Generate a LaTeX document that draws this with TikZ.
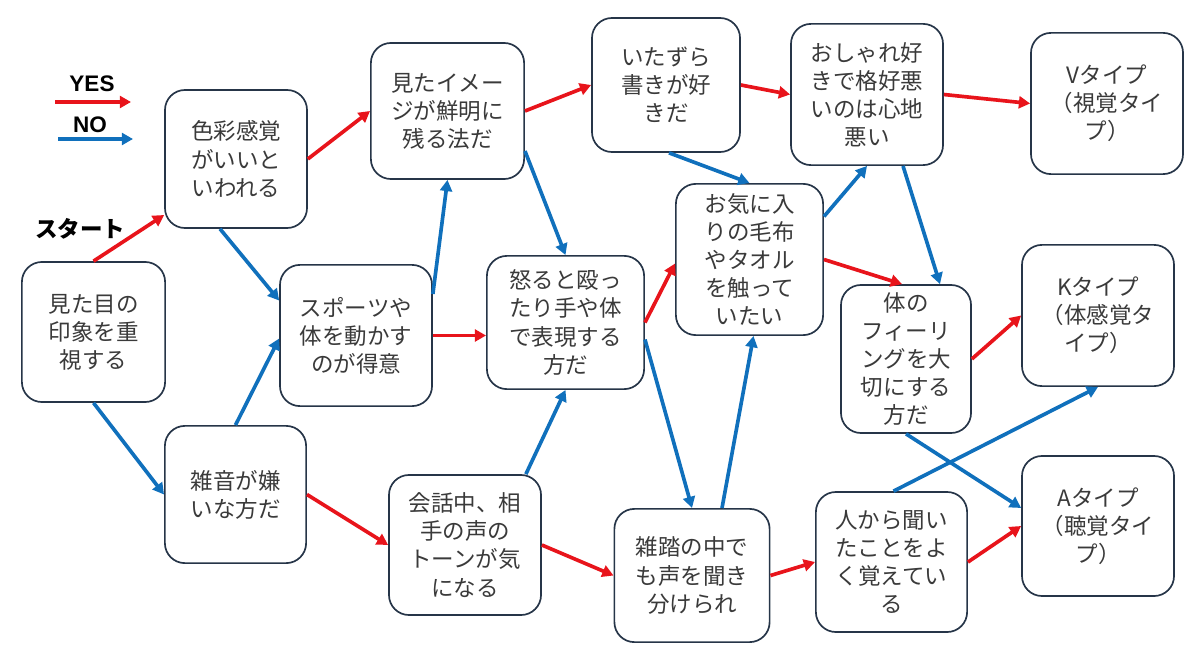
\documentclass[tikz,border=0pt]{standalone}
\usepackage{fontspec}
\newfontfamily\jp{Noto Sans CJK JP}
\newfontfamily\lat{Liberation Sans}
\usetikzlibrary{arrows.meta}
\definecolor{yesred}{HTML}{E8141B}
\definecolor{noblue}{HTML}{1070BC}
\definecolor{boxline}{HTML}{263548}
\definecolor{txt}{HTML}{3A3A3A}

\begin{document}
\begin{tikzpicture}[x=0.025cm, y=-0.025cm,
    box/.style={draw=boxline, line width=1.2pt, rounded corners=0.5cm, fill=white, align=center, text=txt,
        minimum width=3.8cm, minimum height=3.5cm, inner sep=2pt, font=\jp\fontsize{16}{20}\selectfont},
    yesarrow/.style={yesred, line width=2.6pt, -{Triangle[length=8pt,width=8.5pt]}},
    noarrow/.style={noblue, line width=2.6pt, -{Triangle[length=8pt,width=8.5pt]}}]
    \useasboundingbox (0,0) rectangle (1200,662);

    % legend
    \node[font=\lat\bfseries\fontsize{16}{18}\selectfont] (yes) at (92,84) {YES};
    \node[font=\lat\bfseries\fontsize{16}{18}\selectfont] (no) at (90,125) {NO};
    \coordinate (yesA) at (55,102);
    \coordinate (yesB) at (131,102);
    \coordinate (noA) at (58,139);
    \coordinate (noB) at (133,139);
    \draw[yesarrow] (yesA) -- (yesB);
    \draw[noarrow] (noA) -- (noB);
    \node[font=\jp\bfseries\fontsize{16}{18}\selectfont] (start) at (80,229) {スタート};

    % questions
    \node[box, minimum width=3.58cm] (look) at (93.5,332) {見た目の\\印象を重\\視する};
    \node[box, minimum width=3.55cm, minimum height=3.45cm] (color) at (236,159) {色彩感覚\\がいいと\\いわれる};
    \node[box, minimum width=3.53cm, minimum height=3.43cm] (noise) at (235.5,494.5) {雑音が嫌\\いな方だ};
    \node[box, minimum height=3.53cm] (sport) at (356,335.5) {スポーツや\\体を動かす\\のが得意};
    \node[box, minimum width=3.83cm, minimum height=3.4cm] (image) at (447.5,111) {見たイメー\\ジが鮮明に\\残る法だ};
    \node[box, minimum width=3.93cm, minimum height=3.33cm] (anger) at (565.5,322.5) {怒ると殴っ\\たり手や体\\で表現する\\方だ};
    \node[box] (voice) at (465,545) {会話中、相\\手の声の\\トーンが気\\になる};
    \node[box, minimum width=3.7cm, minimum height=3.35cm] (doodle) at (666,85) {いたずら\\書きが好\\きだ};
    \node[box, minimum width=3.68cm, minimum height=3.78cm] (blanket) at (749.5,259.5) {お気に入\\りの毛布\\やタオル\\を触って\\いたい};
    \node[box, minimum width=3.88cm, minimum height=3.33cm] (crowd) at (692,575.5) {雑踏の中で\\も声を聞き\\分けられ};
    \node[box, minimum height=3.53cm] (fashion) at (867,94.5) {おしゃれ好\\きで格好悪\\いのは心地\\悪い};
    \node[box, minimum width=3.25cm, minimum height=3.7cm] (feel) at (906,359) {体の\\フィーリ\\ングを大\\切にする\\方だ};
    \node[box, minimum width=3.78cm] (memory) at (891.5,562) {人から聞い\\たことをよ\\く覚えてい\\る};

    % results
    \node[box, minimum height=3.53cm] (vtype) at (1107,103.5) {Vタイプ\\（視覚タイ\\プ）};
    \node[box, minimum height=3.53cm] (ktype) at (1098,315.5) {Kタイプ\\（体感覚タ\\イプ）};
    \node[box] (atype) at (1098,526) {Aタイプ\\（聴覚タイ\\プ）};

    % yes
    \draw[yesarrow] (look.north) -- ([shift={(0,56)}]color.west);
    \draw[yesarrow] (color.east) -- (image.west);
    \draw[yesarrow] (noise.east) -- (voice.west);
    \draw[yesarrow] (sport.east) -- (sport.east -| anger.west);
    \draw[yesarrow] (image.east) -- (doodle.west);
    \draw[yesarrow] (voice.east) -- (crowd.west);
    \draw[yesarrow] (anger.east) -- ([shift={(0,4)}]blanket.west);
    \draw[yesarrow] (doodle.east) -- (fashion.west);
    \draw[yesarrow] (blanket.east) -- ([shift={(-4,0)}]feel.north);
    \draw[yesarrow] (fashion.east) -- (vtype.west);
    \draw[yesarrow] (feel.east) -- (ktype.west);
    \draw[yesarrow] (crowd.east) -- (memory.west);
    \draw[yesarrow] (memory.east) -- (atype.west);

    % no
    \draw[noarrow] (look.south) -- (noise.west);
    \draw[noarrow] ([shift={(-16,0)}]color.south) -- ([shift={(0,-35)}]sport.west);
    \draw[noarrow] (noise.north) -- ([shift={(0,3)}]sport.west);
    \draw[noarrow] ([shift={(0,30)}]sport.north east) -- (image.south);
    \draw[noarrow] ([shift={(0,40)}]image.east) -- (anger.north);
    \draw[noarrow] ([shift={(-16,0)}]voice.north east) -- (anger.south);
    \draw[noarrow] ([shift={(0,17)}]anger.east) -- (crowd.north);
    \draw[noarrow] ([shift={(30,0)}]crowd.north) -- ([shift={(4,0)}]blanket.south);
    \draw[noarrow] ([shift={(3,0)}]doodle.south) -- (blanket.north);
    \draw[noarrow] ([shift={(0,-43)}]blanket.east) -- (fashion.south);
    \draw[noarrow] ([shift={(36,0)}]fashion.south) -- ([shift={(34,0)}]feel.north);
    \draw[noarrow] (feel.south) -- ([shift={(0,-18)}]atype.west);
    \draw[noarrow] ([shift={(2,0)}]memory.north) -- (ktype.south);
\end{tikzpicture}
\end{document}
